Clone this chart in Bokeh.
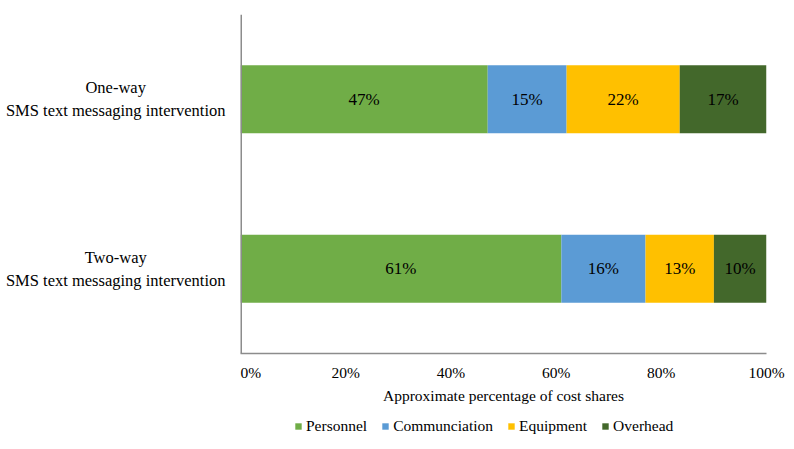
from bokeh.plotting import figure
from bokeh.models import ColumnDataSource, FactorRange, LabelSet, Legend, LegendItem, PrintfTickFormatter, FixedTicker, Span
from bokeh.core.properties import value
from bokeh.layouts import column, row
from bokeh.embed import file_html
from bokeh.resources import INLINE

categories = ["One-way\nSMS text messaging intervention", "Two-way\nSMS text messaging intervention"]
series = ["Personnel", "Communciation", "Equipment", "Overhead"]
personnel = [47, 61]
communication = [15, 16]
equipment = [21.5, 13]
overhead = [16.5, 10]
segment_labels = [["47%", "61%"], ["15%", "16%"], ["22%", "13%"], ["17%", "10%"]]
colors = ["#70AD47", "#5B9BD5", "#FFC000", "#43682B"]
x_ticks = [0, 20, 40, 60, 80, 100]

FONT = "Liberation Serif"
FS = "15.5px"
AXIS_GREY = "#8c8c8c"

y_range = FactorRange(*reversed(categories))

p = figure(width=546, height=410, output_backend="svg", toolbar_location=None,
           y_range=y_range, x_range=(0, 100), y_axis_location=None,
           min_border_left=0, min_border_right=20, min_border_top=14, min_border_bottom=57)
p.outline_line_color = None
p.grid.visible = False
p.background_fill_color = "white"

values = [personnel, communication, equipment, overhead]
left = [0.0] * len(categories)
for name, vals, col, labs in zip(series, values, colors, segment_labels):
    right = [l + v for l, v in zip(left, vals)]
    mid = [(l + r) / 2 for l, r in zip(left, right)]
    src = ColumnDataSource(dict(y=categories, left=left, right=right, mid=mid, lab=labs))
    p.hbar(y="y", left="left", right="right", height=0.4, source=src,
           fill_color=col, line_color=None)
    p.add_layout(LabelSet(x="mid", y="y", text="lab", source=src, text_align="center",
                          text_baseline="middle", text_font=FONT, text_font_size="17px",
                          text_color="black"))
    left = right

# vertical axis line at the start of the value range
p.add_layout(Span(location=x_ticks[0], dimension="height", line_color=AXIS_GREY, line_width=3))

p.xaxis.ticker = FixedTicker(ticks=x_ticks)
p.xaxis.formatter = PrintfTickFormatter(format="%d%%")
p.xaxis.major_tick_line_color = None
p.xaxis.minor_tick_line_color = None
p.xaxis.axis_line_color = AXIS_GREY
p.xaxis.axis_line_width = 1.5
p.xaxis.major_label_standoff = 4
p.xaxis.major_label_text_font = FONT
p.xaxis.major_label_text_font_size = FS
p.xaxis.major_label_text_color = "black"
p.xaxis.axis_label = "Approximate percentage of cost shares"
p.xaxis.axis_label_text_font = FONT
p.xaxis.axis_label_text_font_size = FS
p.xaxis.axis_label_text_font_style = "normal"
p.xaxis.axis_label_text_color = "black"
p.xaxis.axis_label_standoff = 3

# category label strip sharing the y range
lab = figure(width=240, height=410, output_backend="svg", toolbar_location=None,
             y_range=y_range, x_range=(0, 1), x_axis_location=None, y_axis_location=None,
             min_border_left=0, min_border_right=0, min_border_top=14, min_border_bottom=57)
lab.outline_line_color = None
lab.grid.visible = False
lab.text(x=0.48, y=categories, text=categories, text_align="center", text_baseline="middle",
         text_font=value(FONT), text_font_size="16.5px", text_color="black",
         text_line_height=1.2)

# legend strip (frames of the column are aligned)
lg = figure(width=546, height=28, output_backend="svg", toolbar_location=None,
            x_range=(0, 1), y_range=(0, 1), x_axis_location=None, y_axis_location=None,
            min_border=0)
lg.outline_line_color = None
lg.grid.visible = False
items = []
for name, col in zip(series, colors):
    # swatch-only renderer, placed outside the visible strip
    r = lg.hbar(y=[-1], left=[0], right=[1], height=0.4, fill_color=col, line_color=None)
    items.append(LegendItem(label=name, renderers=[r]))
legend = Legend(items=items, orientation="horizontal", location=(54, 3),
                glyph_width=8, glyph_height=8, label_standoff=4, spacing=14,
                padding=0, margin=0, border_line_color=None, background_fill_alpha=0,
                label_text_font=FONT, label_text_font_size=FS, label_text_color="black")
lg.add_layout(legend, "center")

layout = row(lab, column(p, lg, spacing=0), spacing=0)
open("out.html", "w").write(file_html(layout, INLINE))
